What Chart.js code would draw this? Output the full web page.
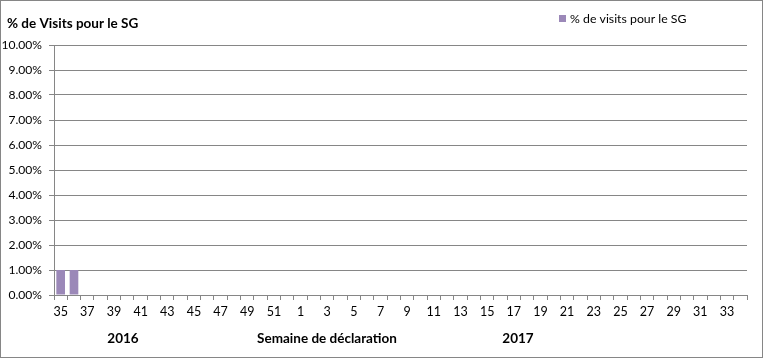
<!DOCTYPE html>
<html>
<head>
<meta charset="utf-8">
<script src="https://cdn.jsdelivr.net/npm/chart.js@4/dist/chart.umd.min.js"></script>
<style>
  html, body { margin: 0; padding: 0; background: #fff; }
  canvas { display: block; }
</style>
</head>
<body>
<canvas id="c" width="763" height="358"></canvas>
<script>
// ---- data ----
const weeks = [35,36,37,38,39,40,41,42,43,44,45,46,47,48,49,50,51,52,
               1,2,3,4,5,6,7,8,9,10,11,12,13,14,15,16,17,18,19,20,21,22,23,24,25,26,27,28,29,30,31,32,33,34];
const visitsSG = [1,1,0,0,0,0,0,0,0,0,0,0,0,0,0,0,0,0,
                  0,0,0,0,0,0,0,0,0,0,0,0,0,0,0,0,0,0,0,0,0,0,0,0,0,0,0,0,0,0,0,0,0,0];
const seriesName = '% de visits pour le SG';
const chartTitle = '% de Visits pour le SG';
const axisTitle = 'Semaine de déclaration';
const yearLabels = ['2016', '2017'];
const yTicks = [0,1,2,3,4,5,6,7,8,9,10];

const GRID = '#868686';
const BAR = '#9B88B8';
const FONT = 'Lato, "Open Sans", sans-serif';

const decor = {
  id: 'decor',
  afterDraw(chart) {
    const ctx = chart.ctx;
    ctx.save();
    // outer frame
    ctx.strokeStyle = GRID;
    ctx.lineWidth = 1;
    ctx.strokeRect(0.5, 0.5, chart.width - 1, chart.height - 1);
    // title
    ctx.fillStyle = '#000';
    ctx.textBaseline = 'middle';
    ctx.textAlign = 'left';
    ctx.font = 'bold 13.5px ' + FONT;
    ctx.fillText(chartTitle, 7, 24);
    // legend
    ctx.fillStyle = BAR;
    ctx.fillRect(559, 15, 7, 7);
    ctx.fillStyle = '#000';
    ctx.font = '12.3px ' + FONT;
    ctx.fillText(seriesName, 570, 19);
    // bottom labels
    ctx.font = 'bold 13.5px ' + FONT;
    ctx.textAlign = 'center';
    ctx.fillText(yearLabels[0], 123, 339);
    ctx.fillText(axisTitle, 327, 339);
    ctx.fillText(yearLabels[1], 518, 339);
    ctx.restore();
  }
};

new Chart(document.getElementById('c'), {
  type: 'bar',
  data: {
    labels: weeks.map(String),
    datasets: [{
      label: seriesName,
      data: visitsSG,
      backgroundColor: BAR,
      borderWidth: 0,
      categoryPercentage: 1,
      barPercentage: 0.65
    }]
  },
  options: {
    responsive: false,
    animation: false,
    devicePixelRatio: 1,
    layout: { padding: { left: 0, right: 16, top: 45, bottom: 30 } },
    plugins: {
      legend: { display: false },
      title: { display: false },
      tooltip: { enabled: false }
    },
    scales: {
      x: {
        grid: {
          offset: true,
          drawOnChartArea: false,
          drawTicks: true,
          tickLength: 5,
          color: GRID
        },
        border: { display: true, color: GRID },
        ticks: {
          autoSkip: false,
          maxRotation: 0,
          minRotation: 0,
          padding: 4,
          color: '#000',
          font: { family: FONT, size: 12.5 },
          callback: function (v, i) { return i % 2 === 0 ? this.getLabelForValue(v) : ''; }
        },
        afterFit(s) { s.height = 33; }
      },
      y: {
        min: 0,
        max: 10,
        afterBuildTicks(s) { s.ticks = yTicks.map(v => ({ value: v })); },
        grid: { color: GRID, tickLength: 5, drawTicks: true },
        border: { display: true, color: GRID },
        ticks: {
          padding: 7,
          color: '#000',
          font: { family: FONT, size: 12.1 },
          callback: v => v.toFixed(2) + '%'
        },
        afterFit(s) { s.width = 54; }
      }
    }
  },
  plugins: [decor]
});
</script>
</body>
</html>
